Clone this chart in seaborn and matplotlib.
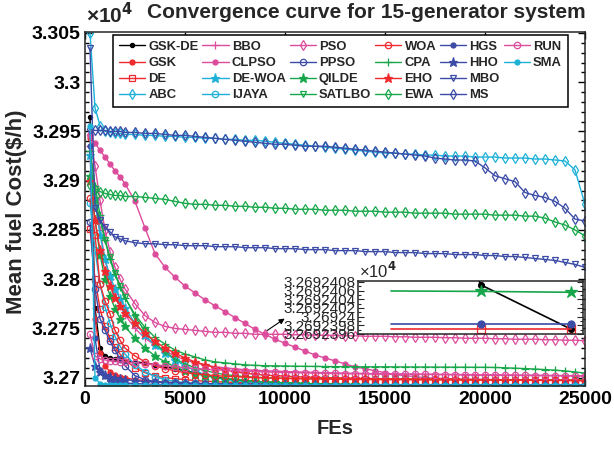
import matplotlib
matplotlib.use("Agg")
import matplotlib.pyplot as plt
from matplotlib.lines import Line2D
from matplotlib.ticker import MultipleLocator, FuncFormatter, NullLocator
import seaborn as sns
import pandas as pd
import numpy as np

# function evaluations (x axis)
fes = [250, 500, 750, 1000, 1250, 1500, 1750, 2000] + list(range(2500, 25001, 500))

# mean fuel cost ($/h)
gsk_de = [32965, 32771, 32730, 32722, 32720, 32719, 32718, 32717, 32716, 32715,
          32713, 32711, 32709, 32707, 32705, 32703, 32701, 32699, 32698, 32697,
          32696, 32695.5, 32695, 32694.6, 32694.2, 32693.9, 32693.6, 32693.4, 32693.2, 32693,
          32692.9, 32692.8, 32692.75, 32692.7, 32692.65, 32692.6, 32692.58, 32692.56, 32692.54, 32692.52,
          32692.5, 32692.5, 32692.49, 32692.48, 32692.48, 32692.47, 32692.47, 32692.46, 32692.46, 32692.46,
          32692.45, 32692.45, 32692.4073, 32692.3971]
gsk = [32943, 32760, 32725, 32712, 32706, 32703, 32701, 32700, 32698, 32697,
       32696, 32695.5, 32695, 32694.6, 32694.3, 32694, 32693.8, 32693.6, 32693.5, 32693.4,
       32693.3, 32693.2, 32693.1, 32693, 32693, 32692.9, 32692.9, 32692.8, 32692.8, 32692.8,
       32692.7, 32692.7, 32692.7, 32692.7, 32692.6, 32692.6, 32692.6, 32692.6, 32692.6, 32692.6,
       32692.5, 32692.5, 32692.5, 32692.5, 32692.5, 32692.5, 32692.5, 32692.5, 32692.5, 32692.5,
       32692.5, 32692.5, 32692.5, 32692.5]
de = [32851, 32800, 32770, 32752, 32740, 32731, 32724, 32718, 32710, 32705,
      32702, 32700, 32699, 32698, 32697, 32696.4, 32695.9, 32695.5, 32695.1, 32694.8,
      32694.5, 32694.2, 32694, 32693.8, 32693.6, 32693.4, 32693.3, 32693.2, 32693.1, 32693,
      32692.9, 32692.85, 32692.8, 32692.75, 32692.7, 32692.65, 32692.6, 32692.57, 32692.54, 32692.51,
      32692.48, 32692.46, 32692.44, 32692.42, 32692.41, 32692.405, 32692.4, 32692.398, 32692.3975, 32692.3972,
      32692.3971, 32692.3971, 32692.3971, 32692.3971]
abc = [33050, 32974, 32956, 32950, 32949, 32948, 32948, 32947, 32947, 32946,
       32946, 32945, 32945, 32944, 32944, 32943, 32943, 32942, 32942, 32941,
       32941, 32940, 32939, 32938, 32937, 32936, 32935, 32934, 32933, 32932,
       32931, 32930, 32929, 32928, 32928, 32927, 32927, 32926, 32926, 32925,
       32925, 32925, 32924, 32924, 32924, 32923, 32923, 32923, 32922, 32922,
       32921, 32920, 32911, 32876]
bbo = [32935, 32890, 32850, 32820, 32800, 32785, 32773, 32764, 32750, 32740,
       32733, 32727, 32722, 32718, 32715, 32713, 32711, 32710, 32709, 32708,
       32707.5, 32707, 32706.6, 32706.2, 32705.9, 32705.6, 32705.3, 32705, 32704.8, 32704.6,
       32704.4, 32704.2, 32704, 32703.9, 32703.8, 32703.7, 32703.6, 32703.5, 32703.4, 32703.3,
       32703.2, 32703.1, 32703, 32702.9, 32702.8, 32702.7, 32702.6, 32702.5, 32702.4, 32702.3,
       32702.2, 32702.1, 32702, 32701.9]
clpso = [32946, 32938, 32931, 32924, 32917, 32910, 32904, 32897, 32879, 32852,
         32826, 32812, 32802, 32793, 32786, 32779, 32773, 32767, 32761, 32755,
         32749, 32744, 32739, 32735, 32731, 32727, 32723, 32720, 32717, 32714,
         32711, 32709, 32707, 32705, 32703, 32702, 32701, 32700, 32699.5, 32699,
         32698.7, 32698.5, 32698.3, 32698.1, 32698, 32697.9, 32697.8, 32697.7, 32697.6, 32697.5,
         32697.4, 32697.3, 32697.2, 32697.1]
de_woa = [32926, 32880, 32845, 32820, 32803, 32790, 32780, 32771, 32755, 32743,
          32733, 32725, 32718, 32712, 32707, 32703, 32700, 32698, 32697, 32696,
          32695, 32694.5, 32694, 32693.6, 32693.3, 32693, 32692.9, 32692.8, 32692.75, 32692.7,
          32692.65, 32692.65, 32692.6, 32692.6, 32692.6, 32692.6, 32692.55, 32692.55, 32692.55, 32692.55,
          32692.55, 32692.55, 32692.55, 32692.55, 32692.55, 32692.55, 32692.55, 32692.55, 32692.55, 32692.55,
          32692.55, 32692.55, 32692.55, 32692.55]
ijaya = [32877, 32830, 32795, 32772, 32755, 32742, 32732, 32724, 32713, 32706,
         32701, 32698, 32696, 32695, 32694.3, 32693.8, 32693.4, 32693.1, 32692.9, 32692.8,
         32692.75, 32692.7, 32692.7, 32692.65, 32692.65, 32692.6, 32692.6, 32692.6, 32692.55, 32692.55,
         32692.55, 32692.55, 32692.55, 32692.55, 32692.55, 32692.55, 32692.55, 32692.55, 32692.55, 32692.55,
         32692.55, 32692.55, 32692.55, 32692.55, 32692.55, 32692.55, 32692.55, 32692.55, 32692.55, 32692.55,
         32692.55, 32692.55, 32692.55, 32692.55]
pso = [32946, 32915, 32880, 32850, 32828, 32812, 32800, 32790, 32775, 32763,
       32756, 32752, 32750, 32749, 32748, 32747, 32746, 32746, 32745, 32745,
       32744, 32744, 32744, 32744, 32743.5, 32743.5, 32743, 32743, 32743, 32742.5,
       32742.5, 32742, 32742, 32742, 32741.5, 32741.5, 32741, 32741, 32741, 32740.5,
       32740.5, 32740, 32740, 32740, 32739.5, 32739.5, 32739, 32739, 32739, 32738.5,
       32738.5, 32738, 32738, 32737.5]
ppso = [32858, 32790, 32760, 32748, 32737, 32728, 32719, 32712, 32702, 32698,
        32696, 32695, 32694.5, 32694, 32693.7, 32693.5, 32693.3, 32693.1, 32693, 32692.9,
        32692.85, 32692.8, 32692.8, 32692.75, 32692.75, 32692.7, 32692.7, 32692.7, 32692.65, 32692.65,
        32692.65, 32692.65, 32692.65, 32692.65, 32692.6, 32692.6, 32692.6, 32692.6, 32692.6, 32692.6,
        32692.6, 32692.6, 32692.6, 32692.6, 32692.6, 32692.6, 32692.6, 32692.6, 32692.6, 32692.6,
        32692.6, 32692.6, 32692.6, 32692.6]
qilde = [32905, 32860, 32825, 32800, 32783, 32770, 32760, 32752, 32740, 32730,
         32722, 32716, 32711, 32707, 32704, 32702, 32700, 32699, 32698, 32697,
         32696.3, 32695.7, 32695.2, 32694.8, 32694.4, 32694.1, 32693.8, 32693.6, 32693.4, 32693.2,
         32693.1, 32693, 32692.9, 32692.8, 32692.75, 32692.7, 32692.65, 32692.6, 32692.57, 32692.54,
         32692.51, 32692.49, 32692.47, 32692.45, 32692.44, 32692.43, 32692.42, 32692.415, 32692.412, 32692.41,
         32692.406, 32692.4059, 32692.4058, 32692.4056]
satlbo = [32900, 32880, 32860, 32840, 32822, 32806, 32793, 32782, 32762, 32747,
          32735, 32726, 32719, 32714, 32710, 32707, 32705, 32703, 32702, 32701,
          32700.5, 32700, 32699.7, 32699.4, 32699.2, 32699, 32698.9, 32698.8, 32698.7, 32698.6,
          32698.5, 32698.5, 32698.4, 32698.4, 32698.3, 32698.3, 32698.2, 32698.2, 32698.1, 32698.1,
          32698, 32698, 32698, 32697.9, 32697.9, 32697.9, 32697.8, 32697.8, 32697.8, 32697.7,
          32697.7, 32697.6, 32697.6, 32697.5]
woa = [32882, 32845, 32795, 32778, 32765, 32748, 32738, 32730, 32722, 32716,
       32712, 32709, 32707, 32705, 32704, 32703, 32702, 32701.5, 32701, 32700.5,
       32700, 32699.7, 32699.4, 32699.2, 32699, 32698.8, 32698.6, 32698.5, 32698.4, 32698.3,
       32698.2, 32698.1, 32698, 32698, 32697.9, 32697.9, 32697.8, 32697.8, 32697.7, 32697.7,
       32697.6, 32697.6, 32697.5, 32697.5, 32697.4, 32697.4, 32697.3, 32697.3, 32697.2, 32697.2,
       32697.1, 32697.1, 32697, 32697]
cpa = [32930, 32895, 32865, 32840, 32820, 32805, 32792, 32781, 32764, 32751,
       32741, 32734, 32728, 32724, 32721, 32718, 32716, 32715, 32714, 32713,
       32712.5, 32712, 32712, 32711.8, 32711.6, 32711.5, 32711.4, 32711.3, 32711.2, 32711.1,
       32711, 32711, 32711, 32711, 32710.9, 32710.9, 32710.8, 32710.8, 32710.7, 32710.7,
       32710.6, 32710.6, 32710.5, 32710.5, 32710.3, 32710, 32709.6, 32709.2, 32708.7, 32708.2,
       32707.6, 32706.8, 32705.8, 32704.5]
eho = [32900, 32860, 32830, 32808, 32793, 32781, 32773, 32766, 32755, 32745,
       32737, 32730, 32725, 32720, 32716, 32713, 32710, 32708, 32706, 32704.5,
       32703.5, 32702.5, 32702, 32701.5, 32701, 32700.6, 32700.3, 32700, 32699.8, 32699.6,
       32699.4, 32699.2, 32699, 32698.9, 32698.8, 32698.7, 32698.6, 32698.5, 32698.4, 32698.3,
       32698.2, 32698.1, 32698, 32698, 32697.9, 32697.8, 32697.7, 32697.6, 32697.5, 32697.4,
       32697.3, 32697.2, 32697.1, 32697]
ewa = [32896, 32892, 32889, 32887, 32886, 32885, 32885, 32884, 32884, 32883,
       32882, 32881, 32879, 32877, 32876, 32876, 32875, 32875, 32874, 32874,
       32873, 32873, 32872, 32872, 32871, 32871, 32871, 32870, 32870, 32870,
       32869, 32869, 32869, 32868, 32868, 32868, 32867, 32867, 32867, 32867,
       32866, 32866, 32866, 32866, 32865, 32865, 32865, 32864, 32864, 32862,
       32858, 32855, 32850, 32844]
hgs = [32935, 32740, 32708, 32702, 32698, 32696, 32695, 32694.5, 32694, 32693.5,
       32693.2, 32693, 32692.9, 32692.8, 32692.7, 32692.65, 32692.6, 32692.56, 32692.53, 32692.5,
       32692.48, 32692.46, 32692.45, 32692.44, 32692.43, 32692.42, 32692.415, 32692.41, 32692.405, 32692.402,
       32692.4, 32692.399, 32692.3985, 32692.3984, 32692.3983, 32692.3983, 32692.3983, 32692.3983, 32692.3983, 32692.3983,
       32692.3983, 32692.3983, 32692.3983, 32692.3983, 32692.3983, 32692.3983, 32692.3983, 32692.3983, 32692.3983, 32692.3983,
       32692.3983, 32692.3983, 32692.3983, 32692.3983]
hho = [32730, 32712, 32706, 32703, 32701, 32700, 32699, 32698, 32697, 32696,
       32695.5, 32695, 32694.6, 32694.3, 32694, 32693.8, 32693.6, 32693.4, 32693.3, 32693.2,
       32693.1, 32693, 32693, 32692.9, 32692.9, 32692.85, 32692.8, 32692.8, 32692.8, 32692.75,
       32692.75, 32692.75, 32692.75, 32692.75, 32692.7, 32692.7, 32692.7, 32692.7, 32692.7, 32692.7,
       32692.7, 32692.7, 32692.7, 32692.7, 32692.7, 32692.7, 32692.7, 32692.7, 32692.7, 32692.7,
       32692.7, 32692.7, 32692.7, 32692.7]
mbo = [33035, 32872, 32860, 32853, 32848, 32843, 32841, 32839, 32837, 32836,
       32836, 32835, 32835, 32834, 32834, 32834, 32833, 32833, 32833, 32832,
       32832, 32832, 32831, 32831, 32831, 32830, 32830, 32830, 32829, 32829,
       32829, 32828, 32828, 32828, 32827, 32827, 32827, 32826, 32826, 32826,
       32825, 32825, 32825, 32824, 32824, 32823, 32823, 32822, 32821, 32820,
       32819, 32817, 32815, 32812]
ms = [32952, 32951, 32951, 32951, 32950, 32950, 32950, 32949, 32949, 32948,
      32948, 32947, 32946, 32946, 32945, 32944, 32943, 32942, 32941, 32940,
      32939, 32938, 32937, 32937, 32936, 32935, 32935, 32935, 32934, 32933,
      32932, 32931, 32930, 32929, 32928, 32927, 32926, 32925, 32923, 32922,
      32921, 32921, 32920, 32913, 32905, 32902, 32899, 32888, 32885, 32883,
      32879, 32872, 32861, 32859]
run = [32744, 32722, 32719, 32718, 32717, 32717, 32716, 32716, 32715, 32714,
       32713, 32712, 32711, 32710, 32709.3, 32708.6, 32708, 32707.5, 32707, 32706.6,
       32706.2, 32705.8, 32705.5, 32705.2, 32705, 32704.8, 32704.6, 32704.4, 32704.2, 32704,
       32703.9, 32703.8, 32703.7, 32703.6, 32703.5, 32703.4, 32703.3, 32703.2, 32703.1, 32703,
       32702.9, 32702.8, 32702.7, 32702.6, 32702.5, 32702.4, 32702.3, 32702.2, 32702.1, 32702,
       32701.9, 32701.8, 32701.7, 32701.6]
sma = [32956, 32700, 32694, 32693, 32692.8, 32692.7, 32692.65, 32692.6, 32692.6, 32692.55,
       32692.55, 32692.55, 32692.5, 32692.5, 32692.5, 32692.5, 32692.5, 32692.5, 32692.5, 32692.5,
       32692.5, 32692.5, 32692.5, 32692.5, 32692.5, 32692.5, 32692.5, 32692.5, 32692.5, 32692.5,
       32692.5, 32692.5, 32692.5, 32692.5, 32692.5, 32692.5, 32692.5, 32692.5, 32692.5, 32692.5,
       32692.5, 32692.5, 32692.5, 32692.5, 32692.5, 32692.5, 32692.5, 32692.5, 32692.5, 32692.5,
       32692.5, 32692.5, 32692.5, 32692.5]

red, pink, blue, cyan, green = "#ef2a2e", "#dc4c9c", "#3b4ba6", "#1eb1d8", "#17a74a"

# name, values, colour, marker, filled
series = [
    ("GSK-DE", gsk_de, "black", "o", True),
    ("GSK", gsk, red, "o", True),
    ("DE", de, red, "s", False),
    ("ABC", abc, cyan, "d", False),
    ("BBO", bbo, pink, "+", True),
    ("CLPSO", clpso, pink, "o", True),
    ("DE-WOA", de_woa, cyan, "*", True),
    ("IJAYA", ijaya, cyan, "o", False),
    ("PSO", pso, pink, "d", False),
    ("PPSO", ppso, blue, "o", False),
    ("QILDE", qilde, green, "*", True),
    ("SATLBO", satlbo, green, "v", False),
    ("WOA", woa, red, "o", False),
    ("CPA", cpa, green, "+", True),
    ("EHO", eho, red, "*", True),
    ("EWA", ewa, green, "d", False),
    ("HGS", hgs, blue, "o", True),
    ("HHO", hho, blue, "*", True),
    ("MBO", mbo, blue, "v", False),
    ("MS", ms, blue, "d", False),
    ("RUN", run, pink, "o", False),
    ("SMA", sma, cyan, "o", True),
]

W, H = 614, 449
TOP, BOT = 32, 386


def fx(x):
    return x / W


def fy(y):
    return 1 - y / H


sns.set_theme(style="ticks")
plt.rcParams["font.family"] = ["Liberation Sans", "DejaVu Sans"]
plt.rcParams["font.weight"] = "bold"
plt.rcParams["axes.linewidth"] = 1.1

fig = plt.figure(figsize=(W / 100, H / 100), dpi=100)
ax = fig.add_axes([fx(85), fy(BOT), fx(500), (BOT - TOP) / H])


def style(marker, filled, color):
    size = {"o": 3.6 if filled else 4.6, "*": 6.5, "+": 6, "d": 5, "s": 4.3, "v": 5}[marker]
    if color == "black":
        size = 3
    return dict(marker=marker, markersize=size, markeredgewidth=0.9,
                markerfacecolor=color if filled else "none", markeredgecolor=color)


handles = []
for name, vals, color, marker, filled in series:
    sns.lineplot(x=fes, y=vals, ax=ax, color=color, linewidth=1.0, estimator=None,
                 **style(marker, filled, color))
    handles.append(ax.lines[-1])

ax.set_xlim(0, 25000)
ax.set_ylim(32691.5, 33051)
ax.xaxis.set_major_locator(MultipleLocator(5000))
ax.yaxis.set_major_locator(MultipleLocator(50))
ax.yaxis.set_minor_locator(MultipleLocator(10))
ax.yaxis.set_major_formatter(FuncFormatter(lambda v, p: f"{v / 1e4:g}"))
ax.tick_params(which="both", direction="in", top=True, right=True, labelsize=14, width=1, colors="black")
ax.tick_params(which="major", length=5)
ax.tick_params(which="minor", length=3)
ax.tick_params(axis="y", pad=3)
ax.set_xlabel("")
ax.set_ylabel("")

labels = [s[0] for s in series] + ["", ""]
blank = Line2D([], [], linestyle="none")
leg = ax.legend(handles + [blank, blank], labels, ncol=6, loc="upper left",
                bbox_to_anchor=((113 - 85) / 500, 1 - 3 / (BOT - TOP)), borderaxespad=0,
                fontsize=9.4, handlelength=2.0, handletextpad=0.25, columnspacing=0.3,
                labelspacing=0.3, borderpad=0.45, fancybox=False, framealpha=1,
                edgecolor="black")
leg.get_frame().set_linewidth(1.1)

fig.text(fx(86), fy(15), "×10$^{\\mathbf{4}}$", fontsize=15, fontweight="bold", va="center")
fig.text(fx(366), fy(12), "Convergence curve for 15-generator system", fontsize=15,
         fontweight="bold", ha="center", va="center")
fig.text(fx(17), fy(212), "Mean fuel Cost(\\$/h)", rotation=90, fontsize=16,
         fontweight="bold", ha="center", va="center")
fig.text(fx(335), fy(428), "FEs", fontsize=14.5, fontweight="bold", ha="center", va="center")

# zoomed inset for the best four algorithms
with plt.rc_context({"font.weight": "normal"}):
    axins = fig.add_axes([fx(358), fy(334), fx(225), 53 / H])
    for name, vals, color, marker, filled in series:
        if name in ("GSK-DE", "DE", "QILDE", "HGS"):
            st = style(marker, filled, color)
            st["markersize"] = st["markersize"] * 1.4
            sns.lineplot(x=fes[-3:], y=vals[-3:], ax=axins, color=color, linewidth=1.2,
                         estimator=None, markevery=[1, 2], **st)
    axins.set_xlim(23817, 25067)
    axins.set_ylim(32692.39598, 32692.4082)
    axins.set_xlabel("")
    axins.set_ylabel("")
    axins.xaxis.set_major_locator(NullLocator())
    axins.yaxis.set_major_locator(MultipleLocator(0.002))
    axins.yaxis.set_minor_locator(MultipleLocator(0.001))
    axins.yaxis.set_major_formatter(FuncFormatter(lambda v, p: f"{v / 1e4:.8g}"))
    axins.tick_params(which="both", direction="in", right=True, labelsize=11, width=0.8, pad=2)
    axins.tick_params(which="major", length=4)
    axins.tick_params(which="minor", length=2)
    for t in axins.get_yticklabels():
        t.set_fontweight("normal")
    axins.set_facecolor("white")
    fig.text(fx(359), fy(271), "×10$^{4}$", fontsize=12, va="center")

ax.annotate("", xy=(fx(287), fy(317)), xytext=(fx(265), fy(332)), xycoords="figure fraction",
            textcoords="figure fraction",
            arrowprops=dict(arrowstyle="-|>", color="black", lw=0.8, mutation_scale=8))

fig.savefig("out.png", dpi=100)
